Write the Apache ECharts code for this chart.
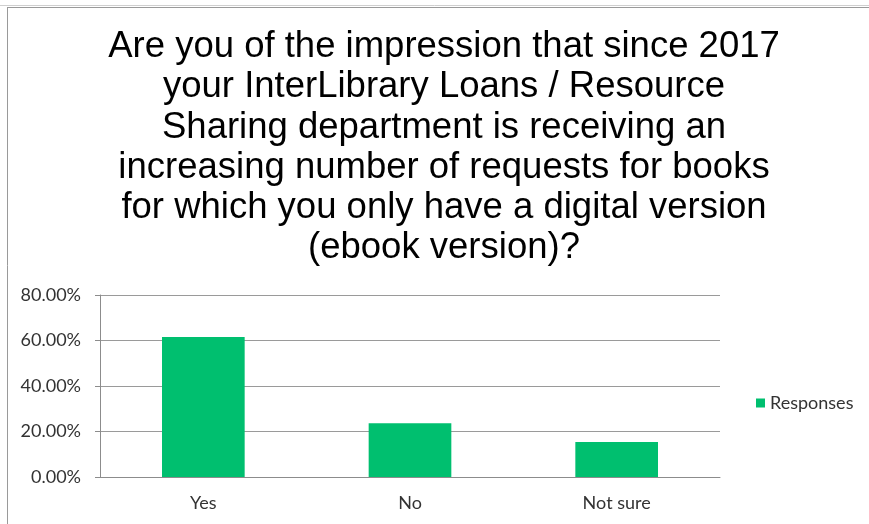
<!DOCTYPE html>
<html>
<head>
<meta charset="utf-8">
<script src="https://cdn.jsdelivr.net/npm/echarts@6/dist/echarts.min.js"></script>
<style>
  html, body { margin: 0; padding: 0; background: #fff; }
  #chart { width: 869px; height: 524px; }
</style>
</head>
<body>
<div id="chart"></div>
<script>
  // data
  var categories = ['Yes', 'No', 'Not sure'];
  var responses = [61.54, 23.6, 15.38];
  var seriesName = 'Responses';
  var titleText = 'Are you of the impression that since 2017\nyour InterLibrary Loans / Resource\nSharing department is receiving an\nincreasing number of requests for books\nfor which you only have a digital version\n(ebook version)?';

  var myChart = echarts.init(document.getElementById('chart'));
  myChart.setOption({
    animation: false,
    title: {
      text: titleText,
      left: 439,
      top: 22,
      textAlign: 'center',
      textStyle: {
        fontFamily: 'Liberation Sans',
        fontSize: 36.5,
        fontWeight: 'normal',
        lineHeight: 40.2,
        color: '#000'
      }
    },
    legend: {
      data: [seriesName],
      left: 751,
      top: 389,
      icon: 'rect',
      itemWidth: 9,
      itemHeight: 9,
      itemGap: 6,
      textStyle: { fontFamily: 'Lato', fontSize: 18, color: '#333' }
    },
    grid: { left: 100, right: 149, top: 295, bottom: 47 },
    xAxis: {
      type: 'category',
      data: categories,
      axisLine: { lineStyle: { color: '#8c8c8c' } },
      axisTick: { length: 6, lineStyle: { color: '#8c8c8c' } },
      axisLabel: { margin: 17, fontFamily: 'Lato', fontSize: 18, color: '#333' }
    },
    yAxis: {
      type: 'value',
      min: 0,
      max: 80,
      interval: 20,
      axisLine: { show: true, lineStyle: { color: '#8c8c8c' } },
      axisTick: { show: true, length: 5, lineStyle: { color: '#8c8c8c' } },
      splitLine: { lineStyle: { color: '#9a9a9a' } },
      axisLabel: {
        margin: 19,
        fontFamily: 'Lato',
        fontSize: 18,
        color: '#333',
        formatter: function (v) { return v.toFixed(2) + '%'; }
      }
    },
    series: [{
      name: seriesName,
      type: 'bar',
      data: responses,
      barWidth: '40%',
      itemStyle: { color: '#00BF6F' }
    }],
    graphic: [
      // worksheet frame
      { type: 'line', shape: { x1: 0, y1: 5.5, x2: 869, y2: 5.5 }, style: { stroke: '#cfcfcf', lineWidth: 1 } },
      { type: 'line', shape: { x1: 7, y1: 7.5, x2: 869, y2: 7.5 }, style: { stroke: '#9a9a9a', lineWidth: 1 } },
      { type: 'line', shape: { x1: 7.5, y1: 7, x2: 7.5, y2: 524 }, style: { stroke: '#9a9a9a', lineWidth: 1 } }
    ]
  });
</script>
</body>
</html>
